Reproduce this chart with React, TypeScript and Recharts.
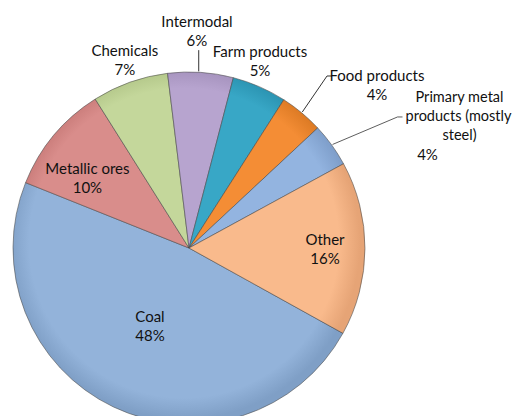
import { PieChart, Pie, Cell } from "recharts";

const categories = [
  "Coal",
  "Metallic ores",
  "Chemicals",
  "Intermodal",
  "Farm products",
  "Food products",
  "Primary metal products (mostly steel)",
  "Other",
];
const shares = [48, 10, 7, 6, 5, 4, 4, 16];

const colors = ["#93b3da", "#d98d8b", "#c4d79b", "#b7a4cf", "#38a7c6", "#f48d35", "#93b4e0", "#f9ba8c"];
const rimColors = ["#7f9fc6", "#c67876", "#b0c486", "#a390bb", "#2a92b0", "#dc7a24", "#7f9fcb", "#e6a476"];

// label placement: shift from slice mid angle (deg), distance from center (px)
const labelShift = [-1.6, 4.8, -0.9, 1.7, 2.9, -9.1, -11.5, 0.2];
const labelDist = [86, 124, 200, 218, 201, 249.5, 299, 136];

const rows = categories.map((name, i) => ({ name, value: shares[i] }));

const RAD = Math.PI / 180;
const polar = (cx: number, cy: number, r: number, a: number) => ({
  x: cx + r * Math.cos(a * RAD),
  y: cy - r * Math.sin(a * RAD),
});

const font = { fontFamily: "Lato, 'Open Sans', sans-serif", fontSize: 15, fill: "#111" };

function renderLabel(props: any) {
  const { cx, cy, midAngle, outerRadius, index, percent } = props;
  const p = polar(cx, cy, labelDist[index], midAngle + labelShift[index]);
  const pct = `${Math.round(percent * 100)}%`;
  const edge = polar(cx, cy, outerRadius + 1, midAngle);
  const t = (x: number, y: number, s: string, k: string, size = 15) => (
    <text key={k} x={x} y={y} textAnchor="middle" dominantBaseline="central" {...font} fontSize={size}>
      {s}
    </text>
  );

  if (index === 6) {
    return (
      <g>
        <polyline
          points={`${edge.x},${edge.y} ${p.x - 64},${p.y - 8} ${p.x - 59},${p.y - 8}`}
          fill="none"
          stroke="#333"
          strokeWidth={0.8}
        />
        {t(p.x - 2, p.y - 28, "Primary metal", "a", 14.5)}
        {t(p.x - 3, p.y - 9, "products (mostly", "b", 14.5)}
        {t(p.x - 2, p.y + 10, "steel)", "c", 14.5)}
        {t(p.x - 34, p.y + 29, pct, "d")}
      </g>
    );
  }

  let leader = null;
  if (index === 3) {
    leader = <line x1={edge.x - 2} y1={edge.y} x2={edge.x - 2} y2={p.y + 20} stroke="#333" strokeWidth={1} />;
  } else if (index === 5) {
    leader = (
      <polyline
        points={`${edge.x},${edge.y} ${p.x - 50},${p.y - 8} ${p.x - 45},${p.y - 8}`}
        fill="none"
        stroke="#333"
        strokeWidth={1}
      />
    );
  }

  return (
    <g>
      {leader}
      {t(p.x, p.y - 9, categories[index], "a")}
      {t(p.x, p.y + 10, pct, "b")}
    </g>
  );
}

export default function App() {
  return (
    <div style={{ position: "absolute", left: 0, top: 0, width: 512, height: 416, background: "#fff" }}>
      <svg width={0} height={0} style={{ position: "absolute" }}>
        <defs>
          {colors.map((c, i) => (
            <radialGradient key={i} id={`g${i}`} gradientUnits="userSpaceOnUse" cx={184} cy={243} r={176}>
              <stop offset="0%" stopColor={c} />
              <stop offset="88%" stopColor={c} />
              <stop offset="100%" stopColor={rimColors[i]} />
            </radialGradient>
          ))}
        </defs>
      </svg>
      <PieChart width={512} height={416}>
        <Pie
          data={rows}
          dataKey="value"
          nameKey="name"
          cx={184}
          cy={243}
          outerRadius={176}
          startAngle={-29}
          endAngle={-389}
          stroke="rgba(70,70,70,0.55)"
          strokeWidth={1}
          label={renderLabel}
          labelLine={false}
          isAnimationActive={false}
        >
          {rows.map((_, i) => (
            <Cell key={i} fill={`url(#g${i})`} />
          ))}
        </Pie>
      </PieChart>
    </div>
  );
}
